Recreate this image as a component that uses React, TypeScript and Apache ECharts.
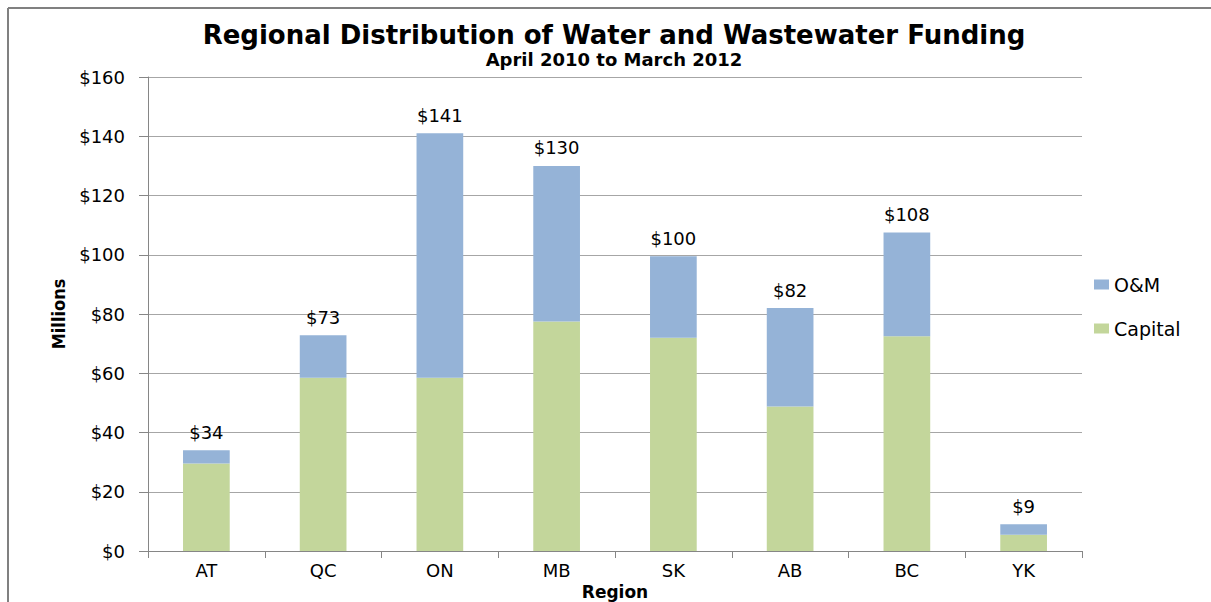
import React, { useEffect, useRef } from "react";
import * as echarts from "echarts";

const regions = ["AT", "QC", "ON", "MB", "SK", "AB", "BC", "YK"];
const capital = [29.5, 58.5, 58.5, 77.5, 72, 48.8, 72.5, 5.5];
const oandm = [4.5, 14.3, 82.5, 52.5, 27.5, 33.2, 35, 3.5];
const yTicks = [0, 20, 40, 60, 80, 100, 120, 140, 160];

const FONT = "'DejaVu Sans', 'Open Sans', sans-serif";
const NARROW = "'Liberation Sans Narrow', 'DejaVu Sans Condensed', sans-serif";

export default function App() {
  const ref = useRef<HTMLDivElement>(null);
  useEffect(() => {
    if (!ref.current) return;
    const chart = echarts.init(ref.current, null, { renderer: "svg" });
    const totals = capital.map((c, i) => c + oandm[i]);
    chart.setOption({
      animation: false,
      backgroundColor: "#ffffff",
      textStyle: { fontFamily: FONT },
      title: [
        {
          text: "Regional Distribution of Water and Wastewater Funding",
          left: 614,
          textAlign: "center",
          top: 22,
          padding: 0,
          textStyle: { fontFamily: FONT, fontSize: 26, fontWeight: "bold", color: "#000" },
        },
        {
          text: "April 2010 to March 2012",
          left: 614,
          textAlign: "center",
          top: 50,
          padding: 0,
          textStyle: { fontFamily: FONT, fontSize: 18, fontWeight: "bold", color: "#000" },
        },
      ],
      legend: {
        orient: "vertical",
        left: 1094,
        top: 275,
        itemWidth: 15,
        itemHeight: 10,
        itemGap: 25,
        padding: 0,
        data: ["O&M", "Capital"],
        textStyle: { fontFamily: FONT, fontSize: 19, color: "#000" },
        icon: "rect",
      },
      grid: {
        left: 148,
        right: 129,
        top: 77,
        bottom: 51,
        containLabel: false,
        outerBoundsMode: "none",
      },
      xAxis: {
        type: "category",
        data: regions,
        name: "Region",
        nameLocation: "middle",
        nameGap: 27,
        nameTextStyle: { fontFamily: FONT, fontSize: 17, fontWeight: "bold", color: "#000" },
        axisLine: { lineStyle: { color: "#868686", width: 1 } },
        axisTick: { show: true, length: 7, lineStyle: { color: "#868686" } },
        axisLabel: { fontFamily: FONT, fontSize: 18, color: "#000", margin: 10 },
      },
      yAxis: {
        type: "value",
        min: yTicks[0],
        max: yTicks[yTicks.length - 1],
        interval: 20,
        name: "Millions",
        nameLocation: "middle",
        nameGap: 81,
        nameRotate: 90,
        nameTextStyle: {
          fontFamily: NARROW,
          fontSize: 18,
          fontWeight: "bold",
          color: "#000",
        },
        axisLine: { show: true, lineStyle: { color: "#868686", width: 1 } },
        axisTick: { show: true, length: 9, lineStyle: { color: "#868686" } },
        splitLine: { lineStyle: { color: "#a6a6a6", width: 1 } },
        axisLabel: {
          fontFamily: FONT,
          fontSize: 18,
          color: "#000",
          margin: 23,
          formatter: (v: number) => "$" + v,
        },
      },
      series: [
        {
          name: "Capital",
          type: "bar",
          stack: "total",
          barWidth: "40%",
          data: capital,
          itemStyle: { color: "#C3D69B" },
        },
        {
          name: "O&M",
          type: "bar",
          stack: "total",
          barWidth: "40%",
          data: oandm,
          itemStyle: { color: "#95B3D7" },
          label: {
            show: true,
            position: "top",
            distance: 9,
            fontFamily: FONT,
            fontSize: 18,
            color: "#000",
            formatter: (p: any) => "$" + Math.round(totals[p.dataIndex]),
          },
        },
      ],
      graphic: [
        {
          type: "line",
          shape: { x1: 8, y1: 8, x2: 1211, y2: 8 },
          style: { stroke: "#808080", lineWidth: 2 },
        },
        {
          type: "line",
          shape: { x1: 8, y1: 8, x2: 8, y2: 602 },
          style: { stroke: "#808080", lineWidth: 2 },
        },
      ],
    });
    return () => chart.dispose();
  }, []);
  return (
    <div
      ref={ref}
      style={{ position: "fixed", left: 0, top: 0, width: 1211, height: 602 }}
    />
  );
}
